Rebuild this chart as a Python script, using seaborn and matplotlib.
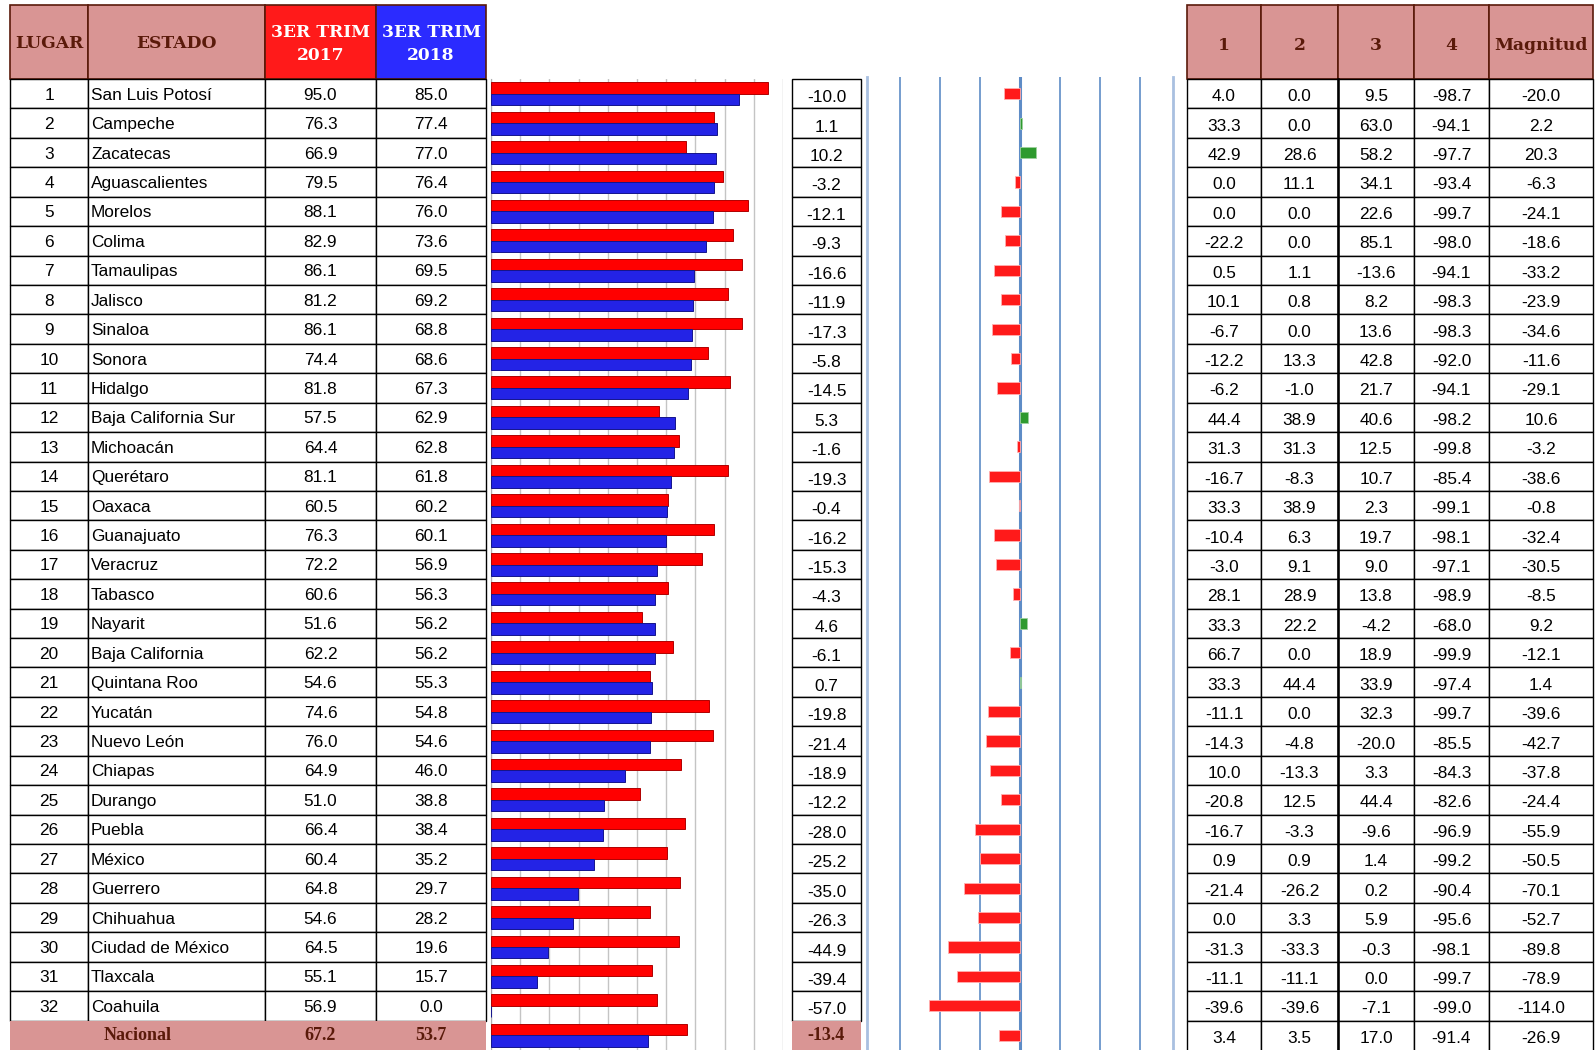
import numpy as np
import pandas as pd
import matplotlib.pyplot as plt
import seaborn as sns
from matplotlib.patches import Rectangle

# datos por estado (lugar = posicion en la lista)
estados = [
    "San Luis Potosí", "Campeche", "Zacatecas", "Aguascalientes", "Morelos",
    "Colima", "Tamaulipas", "Jalisco", "Sinaloa", "Sonora", "Hidalgo",
    "Baja California Sur", "Michoacán", "Querétaro", "Oaxaca", "Guanajuato",
    "Veracruz", "Tabasco", "Nayarit", "Baja California", "Quintana Roo",
    "Yucatán", "Nuevo León", "Chiapas", "Durango", "Puebla", "México",
    "Guerrero", "Chihuahua", "Ciudad de México", "Tlaxcala", "Coahuila",
]
v2017 = [95.0, 76.3, 66.9, 79.5, 88.1, 82.9, 86.1, 81.2, 86.1, 74.4, 81.8,
         57.5, 64.4, 81.1, 60.5, 76.3, 72.2, 60.6, 51.6, 62.2, 54.6, 74.6,
         76.0, 64.9, 51.0, 66.4, 60.4, 64.8, 54.6, 64.5, 55.1, 56.9]
v2018 = [85.0, 77.4, 77.0, 76.4, 76.0, 73.6, 69.5, 69.2, 68.8, 68.6, 67.3,
         62.9, 62.8, 61.8, 60.2, 60.1, 56.9, 56.3, 56.2, 56.2, 55.3, 54.8,
         54.6, 46.0, 38.8, 38.4, 35.2, 29.7, 28.2, 19.6, 15.7, 0.0]
dif = [-10.0, 1.1, 10.2, -3.2, -12.1, -9.3, -16.6, -11.9, -17.3, -5.8, -14.5,
       5.3, -1.6, -19.3, -0.4, -16.2, -15.3, -4.3, 4.6, -6.1, 0.7, -19.8,
       -21.4, -18.9, -12.2, -28.0, -25.2, -35.0, -26.3, -44.9, -39.4, -57.0]
col1 = [4.0, 33.3, 42.9, 0.0, 0.0, -22.2, 0.5, 10.1, -6.7, -12.2, -6.2, 44.4,
        31.3, -16.7, 33.3, -10.4, -3.0, 28.1, 33.3, 66.7, 33.3, -11.1, -14.3,
        10.0, -20.8, -16.7, 0.9, -21.4, 0.0, -31.3, -11.1, -39.6]
col2 = [0.0, 0.0, 28.6, 11.1, 0.0, 0.0, 1.1, 0.8, 0.0, 13.3, -1.0, 38.9,
        31.3, -8.3, 38.9, 6.3, 9.1, 28.9, 22.2, 0.0, 44.4, 0.0, -4.8, -13.3,
        12.5, -3.3, 0.9, -26.2, 3.3, -33.3, -11.1, -39.6]
col3 = [9.5, 63.0, 58.2, 34.1, 22.6, 85.1, -13.6, 8.2, 13.6, 42.8, 21.7, 40.6,
        12.5, 10.7, 2.3, 19.7, 9.0, 13.8, -4.2, 18.9, 33.9, 32.3, -20.0, 3.3,
        44.4, -9.6, 1.4, 0.2, 5.9, -0.3, 0.0, -7.1]
col4 = [-98.7, -94.1, -97.7, -93.4, -99.7, -98.0, -94.1, -98.3, -98.3, -92.0,
        -94.1, -98.2, -99.8, -85.4, -99.1, -98.1, -97.1, -98.9, -68.0, -99.9,
        -97.4, -99.7, -85.5, -84.3, -82.6, -96.9, -99.2, -90.4, -95.6, -98.1,
        -99.7, -99.0]
magnitud = [-20.0, 2.2, 20.3, -6.3, -24.1, -18.6, -33.2, -23.9, -34.6, -11.6,
            -29.1, 10.6, -3.2, -38.6, -0.8, -32.4, -30.5, -8.5, 9.2, -12.1,
            1.4, -39.6, -42.7, -37.8, -24.4, -55.9, -50.5, -70.1, -52.7,
            -89.8, -78.9, -114.0]

nac_2017, nac_2018, nac_dif = 67.2, 53.7, -13.4
nac_cols = [3.4, 3.5, 17.0, -91.4, -26.9]

cabeceras_der = ["1", "2", "3", "4", "Magnitud"]

# colores
ROSA = "#D99594"
CAFE = "#5A1A0A"
ROJO = "#FF1A1A"
AZUL = "#2B2BFF"
BAR_ROJO = "#FF0000"
BAR_AZUL = "#2323E6"
VERDE = "#2E9A2E"

plt.rcParams["font.family"] = ["Liberation Sans", "DejaVu Sans"]

W, H = 1595, 1050
fig = plt.figure(figsize=(W / 100, H / 100), dpi=100)
bg = fig.add_axes([0, 0, 1, 1])
bg.set_xlim(0, W)
bg.set_ylim(H, 0)
bg.axis("off")

top = 79
n_rows = len(estados) + 1
row_h = (H - top) / n_rows

xl = [10, 88, 265, 376, 486]        # tabla izquierda
xd = [792, 861]                     # columna diferencia
xr = [1187, 1261, 1338, 1414, 1489, 1593]  # tabla derecha

serif = ["DejaVu Serif"]
body_fs = 12.4
head_fs = 12.3


def cell(x0, x1, y0, y1, fc="white", ec="black", lw=1.0):
    bg.add_patch(Rectangle((x0, y0), x1 - x0, y1 - y0, facecolor=fc,
                           edgecolor=ec, linewidth=lw))


# ---- cabecera izquierda
cell(xl[0], xl[1], 5, top, ROSA, CAFE, 1.2)
cell(xl[1], xl[2], 5, top, ROSA, CAFE, 1.2)
cell(xl[2], xl[3], 5, top, ROJO, CAFE, 1.2)
cell(xl[3], xl[4], 5, top, AZUL, CAFE, 1.2)
hy = (5 + top) / 2 + 2
bg.text((xl[0] + xl[1]) / 2, hy, "LUGAR", ha="center", va="center",
        family=serif, weight="bold", fontsize=head_fs, color=CAFE)
bg.text((xl[1] + xl[2]) / 2, hy, "ESTADO", ha="center", va="center",
        family=serif, weight="bold", fontsize=head_fs, color=CAFE)
bg.text((xl[2] + xl[3]) / 2, hy, "3ER TRIM\n2017", ha="center", va="center",
        family=serif, weight="bold", fontsize=head_fs, color="white",
        linespacing=1.45)
bg.text((xl[3] + xl[4]) / 2, hy, "3ER TRIM\n2018", ha="center", va="center",
        family=serif, weight="bold", fontsize=head_fs, color="white",
        linespacing=1.45)

# ---- cabecera derecha
for i, lab in enumerate(cabeceras_der):
    cell(xr[i], xr[i + 1], 5, top, ROSA, CAFE, 1.2)
    bg.text((xr[i] + xr[i + 1]) / 2, hy + 1, lab, ha="center", va="center",
            family=serif, weight="bold", fontsize=head_fs, color=CAFE)

# ---- filas
for i, est in enumerate(estados):
    y0 = top + i * row_h
    y1 = y0 + row_h
    yc = (y0 + y1) / 2
    for j in range(4):
        cell(xl[j], xl[j + 1], y0, y1)
    bg.text((xl[0] + xl[1]) / 2, yc + 1.5, str(i + 1), ha="center",
            va="center", fontsize=body_fs)
    bg.text(xl[1] + 3, yc + 1.5, est, ha="left", va="center",
            fontsize=body_fs)
    bg.text((xl[2] + xl[3]) / 2, yc + 1.5, f"{v2017[i]:.1f}", ha="center",
            va="center", fontsize=body_fs)
    bg.text((xl[3] + xl[4]) / 2, yc + 1.5, f"{v2018[i]:.1f}", ha="center",
            va="center", fontsize=body_fs)

    cell(xd[0], xd[1], y0, y1)
    bg.text((xd[0] + xd[1]) / 2, yc + 4, f"{dif[i]:.1f}", ha="center",
            va="center", fontsize=body_fs)

    vals = [col1[i], col2[i], col3[i], col4[i], magnitud[i]]
    for j, v in enumerate(vals):
        cell(xr[j], xr[j + 1], y0, y1)
        bg.text((xr[j] + xr[j + 1]) / 2, yc + 3, f"{v:.1f}", ha="center",
                va="center", fontsize=body_fs)

# ---- fila nacional
y0 = top + len(estados) * row_h
yc = y0 + row_h / 2
cell(xl[0], xl[4], y0, H + 2, ROSA, ROSA, 0)
nac_font = dict(family=["Liberation Serif"], weight="bold", fontsize=13,
                color=CAFE, ha="center", va="center")
bg.text((xl[0] + xl[2]) / 2, yc, "Nacional", **nac_font)
bg.text((xl[2] + xl[3]) / 2, yc, f"{nac_2017:.1f}", **nac_font)
bg.text((xl[3] + xl[4]) / 2, yc, f"{nac_2018:.1f}", **nac_font)
cell(xd[0], xd[1], y0, H + 2, ROSA, ROSA, 0)
bg.text((xd[0] + xd[1]) / 2, yc, f"{nac_dif:.1f}", **nac_font)
for j, v in enumerate(nac_cols):
    cell(xr[j], xr[j + 1], y0, H + 2)
    bg.text((xr[j] + xr[j + 1]) / 2, yc + 3, f"{v:.1f}", ha="center",
            va="center", fontsize=body_fs)
# borde grueso entre columnas 2 y 3
bg.plot([xr[2], xr[2]], [top, H], color="black", lw=1.8)

# ---- datos para las graficas
todos = estados + ["Nacional"]
df = pd.DataFrame({
    "estado": todos * 2,
    "periodo": ["2017"] * len(todos) + ["2018"] * len(todos),
    "valor": v2017 + [nac_2017] + v2018 + [nac_2018],
})
dd = pd.DataFrame({"estado": todos, "dif": dif + [nac_dif]})
dd["signo"] = np.where(dd["dif"] < 0, "neg", "pos")

# ---- barras 2017 vs 2018
ax1 = fig.add_axes([491 / W, 0, (783 - 491) / W, (H - top) / H])
sns.barplot(data=df, y="estado", x="valor", hue="periodo", order=todos,
            hue_order=["2017", "2018"], palette=[BAR_ROJO, BAR_AZUL],
            saturation=1, orient="h", width=0.78, legend=False, ax=ax1,
            zorder=3)
for p in ax1.patches:
    c = p.get_facecolor()
    p.set_edgecolor("#B00000" if c[0] > 0.9 else "#14148C")
    p.set_linewidth(0.7)
ax1.set_xlim(0, 100)
ax1.set_xticks(range(0, 101, 10))
ax1.grid(axis="x", color="#C4C4C4", lw=1)
ax1.set_axisbelow(True)
ax1.tick_params(length=0, labelbottom=False, labelleft=False)
ax1.set_xlabel("")
ax1.set_ylabel("")
for s in ["top", "bottom", "right"]:
    ax1.spines[s].set_visible(False)
ax1.spines["left"].set_color("#B0B0B0")
ax1.patch.set_alpha(0)

# ---- barras de diferencia
ax2 = fig.add_axes([867 / W, 0, (1173 - 867) / W, (H - 77) / H])
sns.barplot(data=dd, y="estado", x="dif", hue="signo", order=todos,
            hue_order=["neg", "pos"], palette=["#FF1A1A", VERDE],
            saturation=1, dodge=False, orient="h", width=0.38, legend=False,
            ax=ax2, zorder=3)
for p in ax2.patches:
    p.set_edgecolor("#FFB0B0" if p.get_facecolor()[0] > 0.9 else "#9ED09E")
    p.set_linewidth(0.6)
ax2.set_ylim(len(todos) - 0.5, -0.5 - (79 - 77) / row_h)
ax2.set_xlim(-96, 96)
ax2.set_xticks([-75, -50, -25, 25, 50, 75])
ax2.grid(axis="x", color="#5E8CC6", lw=1.2)
ax2.axvline(0, color="#5E8CC6", lw=2.2, zorder=2)
ax2.set_axisbelow(True)
ax2.tick_params(length=0, labelbottom=False, labelleft=False)
ax2.set_xlabel("")
ax2.set_ylabel("")
for s in ["top", "bottom"]:
    ax2.spines[s].set_visible(False)
for s in ["left", "right"]:
    ax2.spines[s].set_color("#A9C0E0")
    ax2.spines[s].set_linewidth(2)
ax2.patch.set_alpha(0)

fig.savefig("out.png", dpi=100)
